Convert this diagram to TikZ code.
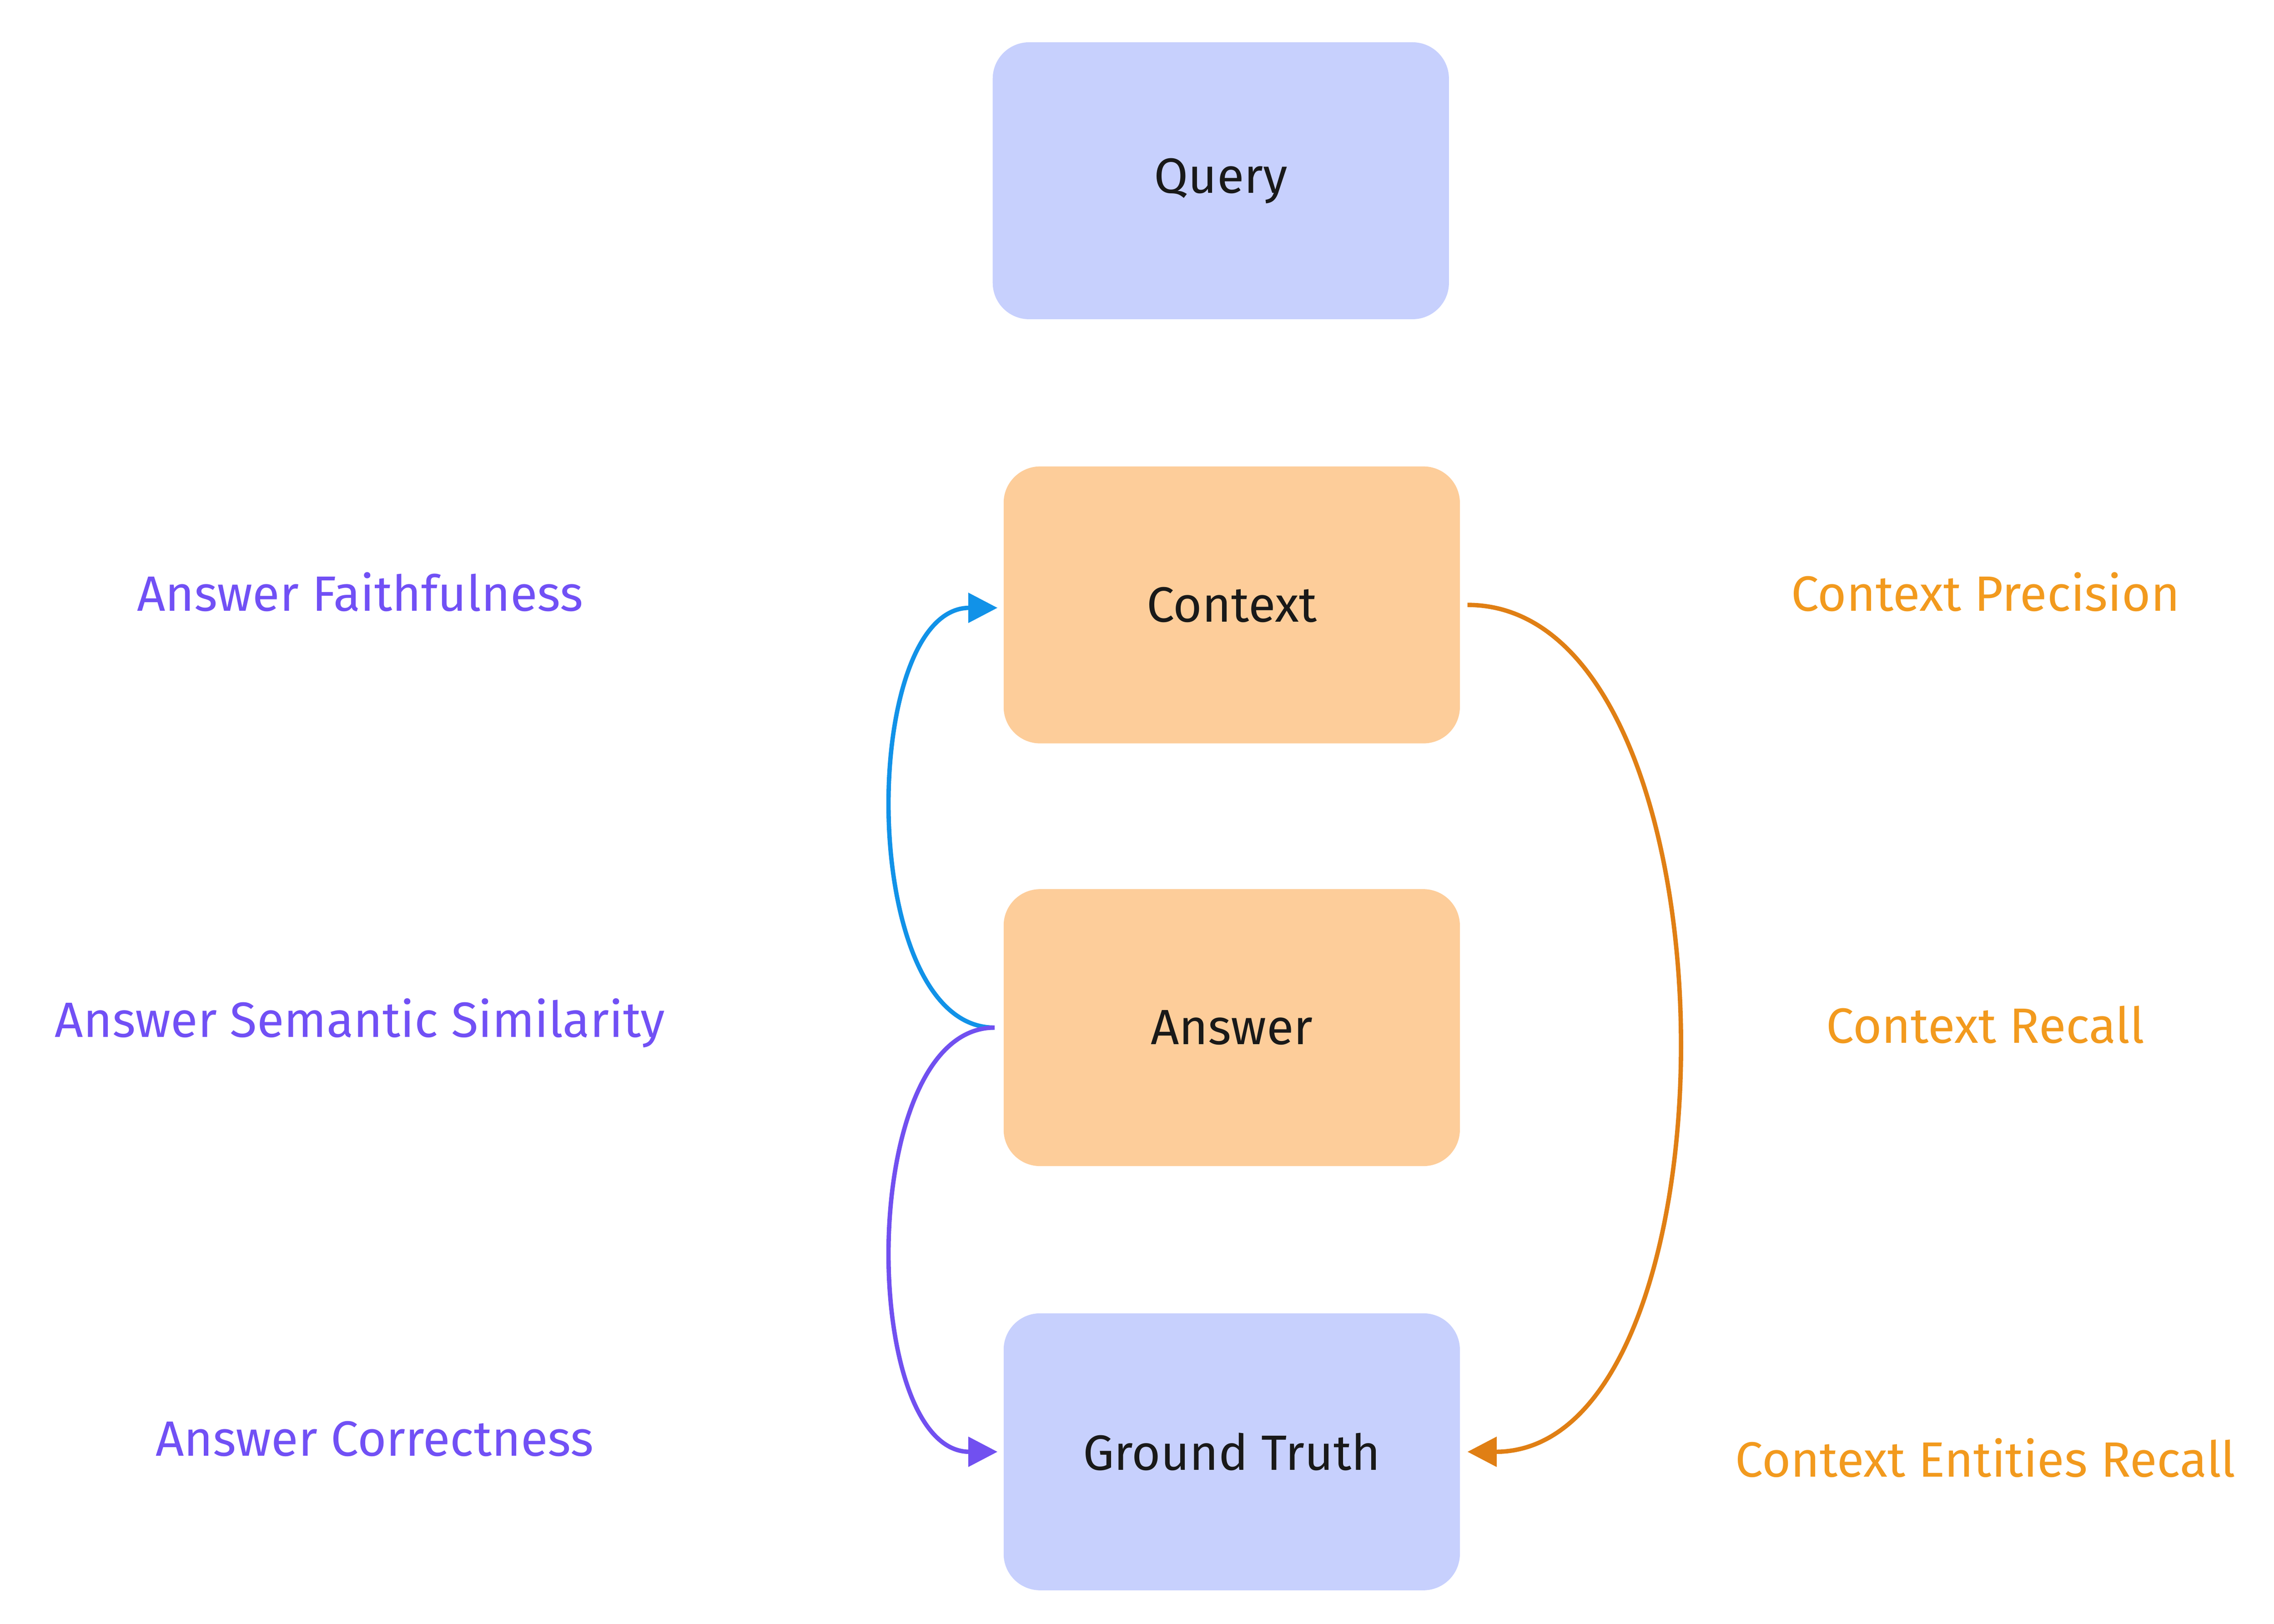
\documentclass[tikz,border=0pt]{standalone}
\usepackage{fontspec}
\setmainfont{Fira Sans}
\usetikzlibrary{arrows.meta}
\definecolor{boxblue}{HTML}{C7D0FD}
\definecolor{boxorange}{HTML}{FDCD9A}
\definecolor{txtpurple}{HTML}{7150F5}
\definecolor{txtorange}{HTML}{F29A1E}
\definecolor{lblue}{HTML}{1192E8}
\definecolor{lorange}{HTML}{E07F14}
\definecolor{lpurple}{HTML}{7150F0}
\begin{document}
\begin{tikzpicture}[x=1pt,y=-1pt,
  box/.style={rounded corners=25pt,minimum width=313pt,minimum height=190pt,inner sep=0pt,font=\fontsize{34}{40}\selectfont,text=black!90},
  lab/.style={font=\fontsize{34}{40}\selectfont,inner sep=0pt},
  con/.style={line width=3pt,-{Triangle[length=20pt,width=20pt]}}]
\useasboundingbox (0,0) rectangle (1560,1114);
\node[box,fill=boxblue] (q) at (837.5,124) {Query};
\node[box,fill=boxorange] (c) at (845,415) {Context};
\node[box,fill=boxorange] (a) at (845,705) {Answer};
\node[box,fill=boxblue] (g) at (845,996) {Ground Truth};
\node[lab,text=txtpurple] (l1) at (247,406) {Answer Faithfulness};
\node[lab,text=txtpurple] (l2) at (247,702) {Answer Semantic Similarity};
\node[lab,text=txtpurple] (l3) at (257,987) {Answer Correctness};
\node[lab,text=txtorange] (r1) at (1362,406) {Context Precision};
\node[lab,text=txtorange] (r2) at (1362,703) {Context Recall};
\node[lab,text=txtorange] (r3) at (1362,1000) {Context Entities Recall};
\coordinate (as) at ([xshift=-6pt]a.west);
\draw[con,lblue] (as) .. controls +(-95,0) and +(-95,0) .. ([xshift=-4pt,yshift=-2pt]c.west);
\draw[con,lpurple] (as) .. controls +(-95,0) and +(-95,0) .. ([xshift=-4pt]g.west);
\draw[con,lorange] ([xshift=5pt]c.east) .. controls +(192,0) and +(192,0) .. ([xshift=5pt]g.east);
\end{tikzpicture}
\end{document}
